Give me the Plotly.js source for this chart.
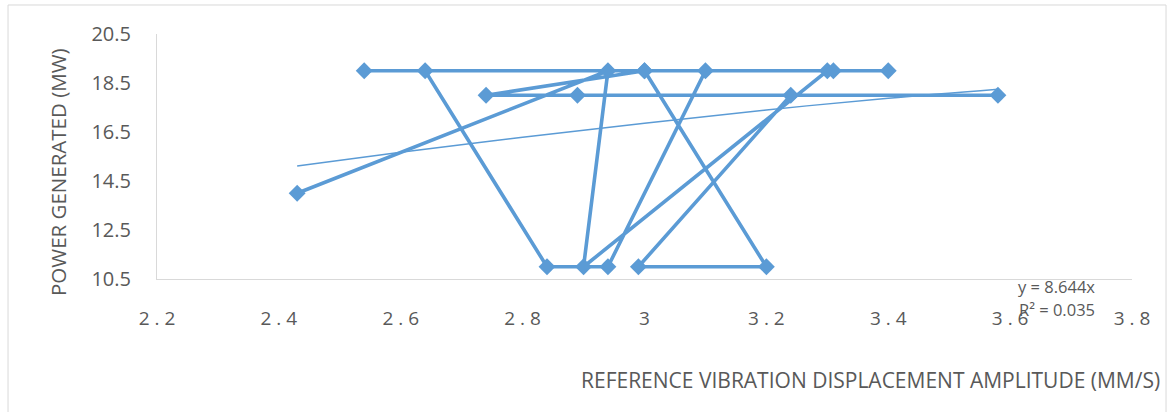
<!DOCTYPE html>
<html>
<head>
<meta charset="utf-8">
<script src="https://cdn.plot.ly/plotly-3.0.1.min.js"></script>
<style>
html,body{margin:0;padding:0;background:#fff;}
#chart{width:1174px;height:412px;}
</style>
</head>
<body>
<div id="chart"></div>
<script>
// Data series, in plotting order
const vibration = [2.43, 2.94, 2.90, 3.30, 3.40, 2.54, 2.64, 2.84, 2.94, 3.10, 3.00, 3.20, 2.99, 3.24, 2.89, 3.58, 2.74, 3.00, 3.31];
const power     = [14,   19,   11,   19,   19,   19,   19,   11,   11,   19,   19,   11,   11,   18,   18,   18,   18,   19,   19];

// Trendline
const trendX = [2.43, 2.6, 2.8, 3.0, 3.2, 3.4, 3.58];
const trendY = [15.11, 15.67, 16.29, 16.86, 17.40, 17.88, 18.25];

// Axis ticks
const xTickVals = [2.2, 2.4, 2.6, 2.8, 3.0, 3.2, 3.4, 3.6, 3.8];
const xTickText = ["2 . 2", "2 . 4", "2 . 6", "2 . 8", "3", "3 . 2", "3 . 4", "3 . 6", "3 . 8"];
const yTickVals = [10.5, 12.5, 14.5, 16.5, 18.5, 20.5];
const yTickText = ["10.5", "12.5", "14.5", "16.5", "18.5", "20.5"];

const xTitle = "REFERENCE VIBRATION DISPLACEMENT AMPLITUDE (MM/S)";
const yTitle = "POWER GENERATED (MW)";
const eqLine1 = "y = 8.644x";
const eqLine2 = "R² = 0.035";

const blue = "#5B9BD5";
const txt = "#595959";
const fam = "Open Sans, Noto Sans, sans-serif";

const traces = [
  {
    x: vibration, y: power, type: "scatter", mode: "lines+markers",
    line: {color: blue, width: 3.6},
    marker: {symbol: "diamond", size: 13, color: blue},
    cliponaxis: false, showlegend: false, hoverinfo: "x+y"
  },
  {
    x: trendX, y: trendY, type: "scatter", mode: "lines",
    line: {color: blue, width: 1.5, shape: "spline"},
    showlegend: false, hoverinfo: "skip"
  }
];

const layout = {
  width: 1174, height: 412,
  margin: {l: 157, r: 42, t: 34, b: 133, pad: 0},
  paper_bgcolor: "#fff", plot_bgcolor: "#fff",
  font: {family: fam, color: txt, size: 18},
  showlegend: false,
  xaxis: {
    range: [2.2, 3.8], tickvals: xTickVals, ticktext: xTickText,
    showgrid: false, zeroline: false, showline: true, linecolor: "#d9d9d9", linewidth: 1,
    ticks: "outside", ticklen: 22, tickcolor: "rgba(0,0,0,0)",
    tickfont: {family: fam, size: 19, color: txt}, automargin: false
  },
  yaxis: {
    range: [10.5, 20.5], tickvals: yTickVals, ticktext: yTickText,
    showgrid: false, zeroline: false, showline: true, linecolor: "#d9d9d9", linewidth: 1,
    ticks: "outside", ticklen: 21, tickcolor: "rgba(0,0,0,0)",
    tickfont: {family: fam, size: 20, color: txt}, automargin: false
  },
  shapes: [
    {type: "rect", xref: "paper", yref: "paper", x0: -0.1528, x1: 1.0349, y0: -0.58, y1: 1.1184,
     line: {color: "#d9d9d9", width: 1}, fillcolor: "rgba(0,0,0,0)", layer: "below"}
  ],
  annotations: [
    {text: xTitle, xref: "paper", yref: "paper", x: 0.7323, y: -0.412, showarrow: false,
     xanchor: "center", yanchor: "middle", font: {family: fam, size: 21, color: txt}},
    {text: yTitle, xref: "paper", yref: "paper", x: -0.1015, y: 0.4367, showarrow: false, textangle: -90,
     xanchor: "center", yanchor: "middle", font: {family: fam, size: 20.5, color: txt}},
    {text: eqLine1, xref: "paper", yref: "paper", x: 0.923, y: -0.0286, showarrow: false,
     xanchor: "center", yanchor: "middle", font: {family: fam, size: 16.5, color: txt}},
    {text: eqLine2, xref: "paper", yref: "paper", x: 0.923, y: -0.1265, showarrow: false,
     xanchor: "center", yanchor: "middle", font: {family: fam, size: 16.5, color: txt}}
  ]
};

Plotly.newPlot("chart", traces, layout, {displayModeBar: false, staticPlot: true});
</script>
</body>
</html>
